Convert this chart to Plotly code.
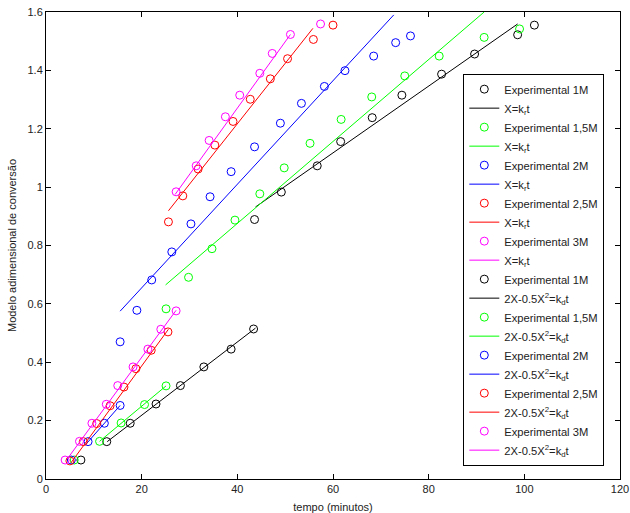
import plotly.graph_objects as go

# Concentration series and their colours
labels = ["1M", "1,5M", "2M", "2,5M", "3M"]
colors = ["#000000", "#00ff00", "#0000ff", "#ff0000", "#ff00ff"]

# Early-time conversion data X (model X = k_r t)
t_r = [
    [7.3, 12.7, 17.6, 23.0, 28.1, 33.0, 38.7, 43.4],
    [5.9, 11.2, 15.7, 20.6, 25.1],
    [5.3, 8.8, 12.2, 15.5],
    [5.0, 7.8, 10.6, 13.4, 16.3, 18.8, 22.0, 25.5],
    [4.0, 7.0, 9.6, 12.6, 15.0, 18.2, 21.3, 24.0, 27.2],
]
x_r = [
    [0.065, 0.128, 0.191, 0.257, 0.320, 0.384, 0.445, 0.514],
    [0.065, 0.129, 0.192, 0.255, 0.319],
    [0.065, 0.128, 0.191, 0.252],
    [0.062, 0.128, 0.190, 0.251, 0.315, 0.378, 0.441, 0.504],
    [0.065, 0.129, 0.191, 0.256, 0.320, 0.384, 0.445, 0.513, 0.576],
]
# Fitted X = k_r t segments (start/end time and value)
fit_r_t = [[12.8, 43.8], [11.2, 25.1], [8.4, 15.5], [5.2, 25.6], [4.5, 27.2]]
fit_r_y = [[0.128, 0.517], [0.129, 0.319], [0.120, 0.252], [0.055, 0.513], [0.070, 0.578]]

# Later-time data as 2X - 0.5X^2 (model 2X-0.5X^2 = k_d t)
t_d = [
    [43.6, 49.2, 56.7, 61.6, 68.2, 74.4, 82.7, 89.6, 98.6, 102.1],
    [25.1, 29.8, 34.7, 39.5, 44.7, 49.8, 55.2, 61.7, 68.1, 75.0, 82.2, 91.6, 99.0],
    [15.5, 19.0, 22.1, 26.3, 30.3, 34.3, 38.7, 43.6, 49.0, 53.4, 58.2, 62.5, 68.5, 73.1, 76.2],
    [25.6, 28.6, 31.8, 35.3, 39.1, 42.7, 46.9, 50.5, 55.9, 60.0],
    [27.2, 31.4, 34.1, 37.5, 40.5, 44.7, 47.3, 51.1, 57.4],
]
x_d = [
    [0.889, 0.983, 1.073, 1.156, 1.238, 1.315, 1.387, 1.456, 1.522, 1.555],
    [0.583, 0.691, 0.789, 0.887, 0.977, 1.066, 1.150, 1.232, 1.309, 1.381, 1.449, 1.513, 1.542],
    [0.470, 0.578, 0.682, 0.778, 0.874, 0.967, 1.053, 1.138, 1.219, 1.287, 1.345, 1.399, 1.449, 1.495, 1.518],
    [0.881, 0.970, 1.062, 1.144, 1.225, 1.301, 1.371, 1.440, 1.506, 1.555],
    [0.984, 1.073, 1.160, 1.241, 1.315, 1.390, 1.458, 1.523, 1.559],
]
fit_d_t = [[43.8, 98.6], [25.0, 91.6], [15.5, 72.7], [25.6, 55.8], [27.0, 51.1]]
fit_d_y = [[0.932, 1.559], [0.665, 1.600], [0.575, 1.590], [0.919, 1.544], [0.975, 1.523]]

x_ticks = [0, 20, 40, 60, 80, 100, 120]
y_ticks = [0, 0.2, 0.4, 0.6, 0.8, 1, 1.2, 1.4, 1.6]

fig = go.Figure()

def add_group(ts, xs, fts, fys, fit_name):
    for i, lab in enumerate(labels):
        fig.add_trace(go.Scatter(
            x=ts[i], y=xs[i], mode="markers", name="Experimental " + lab,
            marker=dict(symbol="circle-open", size=8, color=colors[i],
                        line=dict(width=1, color=colors[i])),
        ))
        fig.add_trace(go.Scatter(
            x=fts[i], y=fys[i], mode="lines", name=fit_name,
            line=dict(color=colors[i], width=1),
        ))

add_group(t_r, x_r, fit_r_t, fit_r_y, "X=k<sub>r</sub>t")
add_group(t_d, x_d, fit_d_t, fit_d_y, "2X-0.5X<sup>2</sup>=k<sub>d</sub>t")

axis_common = dict(
    showline=True, linecolor="black", linewidth=1, mirror="ticks",
    ticks="inside", ticklen=5, tickcolor="black", showgrid=False, zeroline=False,
    automargin=False,
    tickfont=dict(family="Liberation Sans, Arial", size=11, color="#222"),
)

fig.update_layout(
    width=630, height=513,
    margin=dict(l=46, r=10, t=12, b=34),
    paper_bgcolor="white", plot_bgcolor="white",
    font=dict(family="Liberation Sans, Arial", size=11, color="#222"),
    showlegend=True,
    legend=dict(
        x=0.727, y=0.868, xanchor="left", yanchor="top",
        bgcolor="white", bordercolor="black", borderwidth=1,
        font=dict(size=11.2), tracegroupgap=0,
    ),
    xaxis=dict(range=[0, 120], tickvals=x_ticks,
               title=dict(text="tempo (minutos)", standoff=9, font=dict(size=11)),
               **axis_common),
    yaxis=dict(range=[0, 1.6], tickvals=y_ticks,
               title=dict(text="Modelo adimensional de conversão", standoff=8, font=dict(size=11)),
               **axis_common),
)

fig.write_html("out.html")
